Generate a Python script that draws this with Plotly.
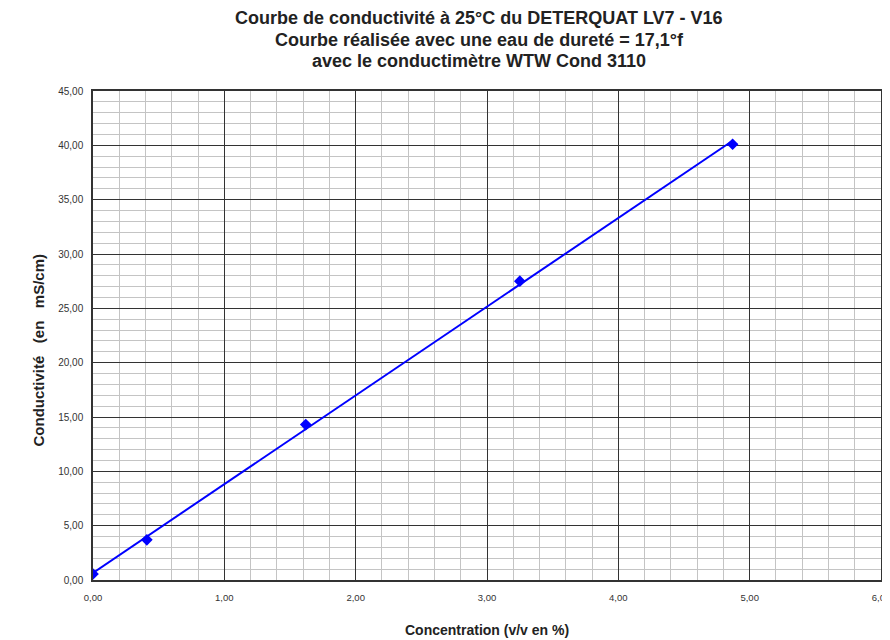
import numpy as np
import plotly.graph_objects as go

concentration = [0.00, 0.41, 1.62, 3.25, 4.87]
conductivite = [0.55, 3.70, 14.30, 27.50, 40.10]

title_lines = [
    "Courbe de conductivité à 25°C du DETERQUAT LV7 - V16",
    "Courbe réalisée avec une eau de dureté = 17,1°f",
    "avec le conductimètre WTW Cond 3110",
]
x_title = "Concentration (v/v en %)"
y_title = "Conductivité\u00a0 \u00a0(en\u00a0 \u00a0mS/cm)"

slope, intercept = np.polyfit(concentration, conductivite, 1)
fit_x = [min(concentration), max(concentration)]
fit_y = [intercept + slope * v for v in fit_x]

fig = go.Figure()
fig.add_trace(go.Scatter(x=fit_x, y=fit_y, mode="lines",
                         line=dict(color="#0000FF", width=2), showlegend=False, hoverinfo="skip"))
fig.add_trace(go.Scatter(x=concentration, y=conductivite, mode="markers",
                         marker=dict(symbol="diamond", color="#0000FF", size=9), showlegend=False))

font = "Liberation Sans, Arial, sans-serif"
title_shifts = [73, 51, 30]
annotations = [
    dict(text="<b>" + line + "</b>", xref="paper", yref="paper", x=0.5, y=1,
         xshift=-8, yanchor="middle", yshift=s, showarrow=False,
         font=dict(size=18, color="#222222"))
    for line, s in zip(title_lines, title_shifts)
]
annotations += [
    dict(text="<b>" + x_title + "</b>", xref="paper", yref="paper", x=0.5, y=0,
         yanchor="middle", yshift=-50, showarrow=False, font=dict(size=14, color="#222222")),
    dict(text="<b>" + y_title + "</b>", xref="paper", yref="paper", x=0, y=0.5,
         xanchor="center", xshift=-55, yshift=-15, textangle=-90, showarrow=False,
         font=dict(size=15, color="#222222")),
]

fig.update_layout(
    width=882, height=632,
    margin=dict(l=85, r=9, t=83, b=60, autoexpand=False),
    paper_bgcolor="white", plot_bgcolor="white",
    separators=", ",
    font=dict(family=font, color="#000000"),
    xaxis=dict(range=[0, 6], tick0=0, dtick=1, tickformat=".2f", automargin=False,
               ticklabeloverflow="allow",
               showgrid=True, gridcolor="#333333", gridwidth=1,
               minor=dict(dtick=0.2, showgrid=True, gridcolor="#c4c4c4", gridwidth=1),
               showline=True, linecolor="#333333", linewidth=1.5, mirror=True,
               ticks="", zeroline=False, tickfont=dict(size=9.5, color="#333333"),
               ticklabelstandoff=8),
    yaxis=dict(range=[0, 45], tick0=0, dtick=5, tickformat=".2f", automargin=False,
               ticklabeloverflow="allow",
               showgrid=True, gridcolor="#333333", gridwidth=1,
               minor=dict(dtick=1, showgrid=True, gridcolor="#c4c4c4", gridwidth=1),
               showline=True, linecolor="#333333", linewidth=1.5, mirror=True,
               ticks="", zeroline=False, tickfont=dict(size=10, color="#333333"),
               ticklabelstandoff=6),
    annotations=annotations,
)
fig.write_html("out.html")
